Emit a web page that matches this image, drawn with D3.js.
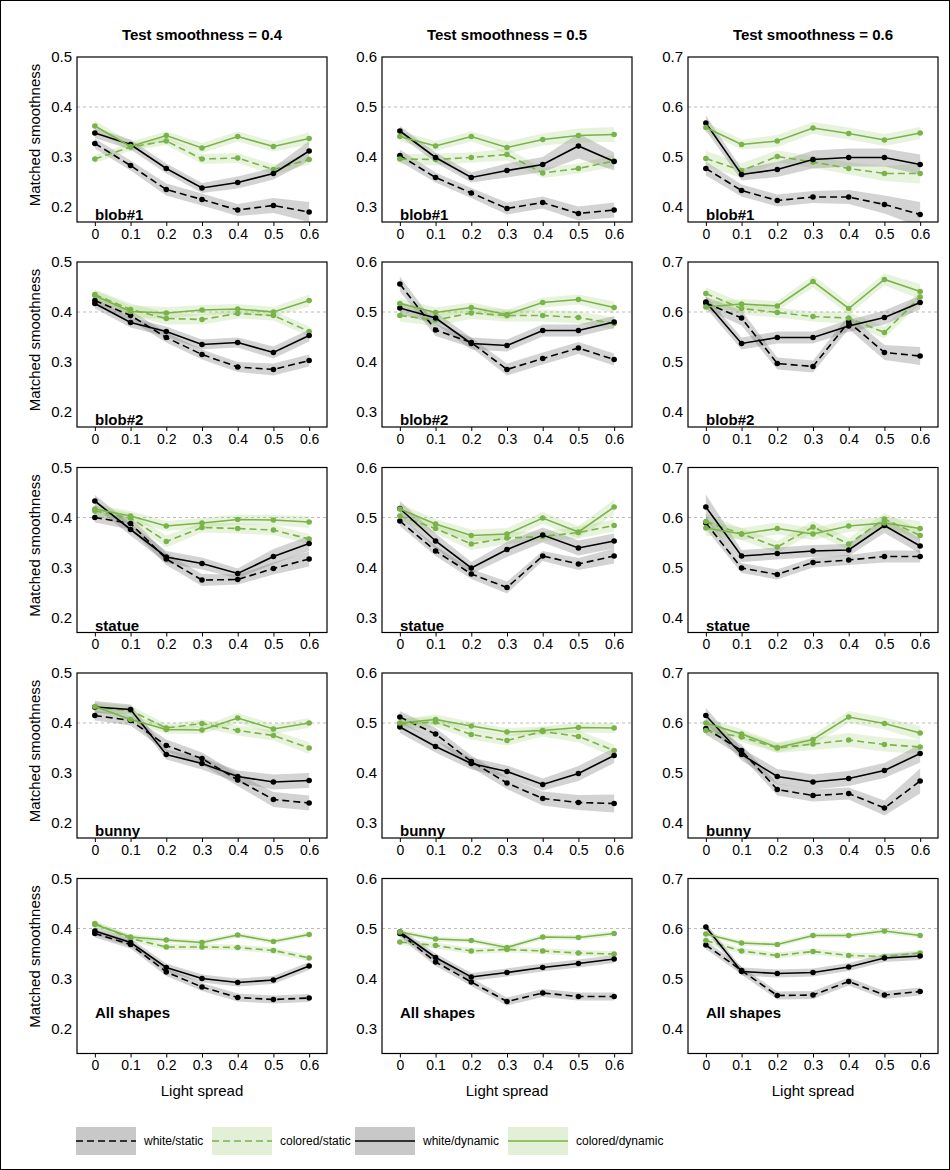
<!DOCTYPE html>
<html>
<head>
<meta charset="utf-8">
<script src="https://cdn.jsdelivr.net/npm/d3@7"></script>
<style>
  html, body { margin: 0; padding: 0; background: #fff; }
  svg { display: block; font-family: "Liberation Sans", Arial, sans-serif; }
</style>
</head>
<body>
<svg id="fig" width="950" height="1170"></svg>
<script>
// Light spread levels on the x axis
const spreads = [0, 0.1, 0.2, 0.3, 0.4, 0.5, 0.6];
const spreadTicks = ["0", "0.1", "0.2", "0.3", "0.4", "0.5", "0.6"];
// Columns: test smoothness; rows: shapes
const testSmoothness = [0.4, 0.5, 0.6];
const shapes = ["blob#1", "blob#2", "statue", "bunny", "All shapes"];
const conditions = ["white/static", "colored/static", "white/dynamic", "colored/dynamic"];

// Mean matched smoothness, one row per panel (shape-major, then test smoothness)
const whiteStatic = [
  [0.327, 0.283, 0.235, 0.215, 0.194, 0.203, 0.190],
  [0.403, 0.359, 0.328, 0.297, 0.309, 0.287, 0.294],
  [0.477, 0.433, 0.413, 0.420, 0.420, 0.405, 0.385],
  [0.423, 0.393, 0.349, 0.315, 0.290, 0.285, 0.303],
  [0.556, 0.464, 0.439, 0.385, 0.407, 0.428, 0.405],
  [0.618, 0.588, 0.497, 0.491, 0.580, 0.519, 0.512],
  [0.400, 0.388, 0.317, 0.275, 0.276, 0.298, 0.317],
  [0.493, 0.433, 0.387, 0.360, 0.423, 0.407, 0.423],
  [0.589, 0.499, 0.486, 0.510, 0.515, 0.522, 0.522],
  [0.415, 0.405, 0.355, 0.329, 0.286, 0.247, 0.240],
  [0.512, 0.478, 0.423, 0.380, 0.349, 0.341, 0.339],
  [0.589, 0.545, 0.467, 0.455, 0.459, 0.430, 0.484],
  [0.390, 0.368, 0.313, 0.283, 0.262, 0.258, 0.261],
  [0.490, 0.433, 0.393, 0.354, 0.371, 0.364, 0.364],
  [0.567, 0.516, 0.466, 0.467, 0.494, 0.467, 0.474]
];
const coloredStatic = [
  [0.296, 0.320, 0.332, 0.296, 0.298, 0.275, 0.295],
  [0.396, 0.395, 0.399, 0.405, 0.368, 0.377, 0.392],
  [0.497, 0.473, 0.501, 0.490, 0.477, 0.467, 0.467],
  [0.435, 0.405, 0.387, 0.385, 0.397, 0.393, 0.361],
  [0.493, 0.484, 0.498, 0.493, 0.493, 0.489, 0.477],
  [0.637, 0.607, 0.599, 0.591, 0.588, 0.559, 0.630],
  [0.413, 0.399, 0.352, 0.380, 0.378, 0.375, 0.357],
  [0.503, 0.478, 0.447, 0.459, 0.462, 0.470, 0.484],
  [0.592, 0.567, 0.541, 0.581, 0.547, 0.597, 0.564],
  [0.431, 0.425, 0.390, 0.399, 0.385, 0.375, 0.350],
  [0.498, 0.502, 0.477, 0.465, 0.483, 0.473, 0.445],
  [0.585, 0.572, 0.550, 0.558, 0.566, 0.557, 0.552],
  [0.410, 0.380, 0.363, 0.363, 0.362, 0.356, 0.341],
  [0.473, 0.466, 0.455, 0.458, 0.455, 0.451, 0.449],
  [0.576, 0.555, 0.546, 0.554, 0.546, 0.544, 0.551]
];
const whiteDynamic = [
  [0.348, 0.325, 0.277, 0.238, 0.249, 0.267, 0.312],
  [0.452, 0.399, 0.359, 0.373, 0.385, 0.422, 0.391],
  [0.568, 0.465, 0.475, 0.495, 0.499, 0.499, 0.485],
  [0.417, 0.379, 0.361, 0.335, 0.339, 0.319, 0.353],
  [0.508, 0.488, 0.437, 0.433, 0.463, 0.463, 0.480],
  [0.620, 0.537, 0.549, 0.549, 0.572, 0.589, 0.619],
  [0.433, 0.376, 0.321, 0.308, 0.288, 0.322, 0.348],
  [0.518, 0.453, 0.399, 0.436, 0.465, 0.439, 0.453],
  [0.621, 0.523, 0.528, 0.533, 0.535, 0.584, 0.543],
  [0.432, 0.427, 0.337, 0.319, 0.293, 0.282, 0.285],
  [0.492, 0.453, 0.419, 0.403, 0.377, 0.399, 0.435],
  [0.615, 0.537, 0.493, 0.482, 0.489, 0.505, 0.539],
  [0.395, 0.372, 0.322, 0.300, 0.292, 0.297, 0.325],
  [0.493, 0.442, 0.403, 0.412, 0.422, 0.430, 0.439],
  [0.603, 0.514, 0.510, 0.512, 0.523, 0.541, 0.545]
];
const coloredDynamic = [
  [0.362, 0.321, 0.343, 0.318, 0.341, 0.321, 0.337],
  [0.441, 0.422, 0.441, 0.419, 0.435, 0.443, 0.445],
  [0.559, 0.525, 0.532, 0.558, 0.547, 0.534, 0.548],
  [0.433, 0.401, 0.398, 0.404, 0.406, 0.400, 0.423],
  [0.517, 0.499, 0.509, 0.495, 0.519, 0.525, 0.509],
  [0.610, 0.616, 0.612, 0.661, 0.607, 0.665, 0.641],
  [0.417, 0.403, 0.383, 0.389, 0.396, 0.395, 0.391],
  [0.517, 0.487, 0.464, 0.467, 0.499, 0.471, 0.521],
  [0.579, 0.567, 0.578, 0.567, 0.583, 0.589, 0.578],
  [0.433, 0.407, 0.387, 0.386, 0.410, 0.388, 0.400],
  [0.500, 0.507, 0.494, 0.482, 0.485, 0.491, 0.490],
  [0.600, 0.578, 0.551, 0.567, 0.612, 0.599, 0.580],
  [0.408, 0.383, 0.377, 0.372, 0.387, 0.374, 0.388],
  [0.493, 0.479, 0.476, 0.462, 0.483, 0.482, 0.490],
  [0.589, 0.571, 0.568, 0.586, 0.586, 0.595, 0.586]
];

// Standard errors (half-width of the shaded bands)
const whiteStaticSE = [
  [0.010, 0.010, 0.012, 0.012, 0.012, 0.015, 0.020],
  [0.012, 0.010, 0.010, 0.012, 0.012, 0.014, 0.015],
  [0.014, 0.012, 0.012, 0.012, 0.014, 0.018, 0.025],
  [0.010, 0.010, 0.010, 0.010, 0.010, 0.012, 0.012],
  [0.015, 0.012, 0.010, 0.012, 0.012, 0.012, 0.012],
  [0.012, 0.015, 0.012, 0.012, 0.014, 0.015, 0.018],
  [0.010, 0.012, 0.012, 0.012, 0.010, 0.012, 0.015],
  [0.010, 0.010, 0.010, 0.012, 0.010, 0.012, 0.015],
  [0.012, 0.010, 0.010, 0.010, 0.010, 0.012, 0.012],
  [0.010, 0.010, 0.012, 0.012, 0.012, 0.015, 0.015],
  [0.012, 0.012, 0.012, 0.012, 0.014, 0.015, 0.018],
  [0.012, 0.012, 0.012, 0.012, 0.012, 0.015, 0.025],
  [0.008, 0.008, 0.008, 0.008, 0.008, 0.008, 0.008],
  [0.008, 0.008, 0.008, 0.008, 0.008, 0.008, 0.008],
  [0.008, 0.008, 0.008, 0.008, 0.008, 0.008, 0.008]
];
const coloredStaticSE = [
  [0.008, 0.008, 0.008, 0.010, 0.010, 0.010, 0.010],
  [0.010, 0.012, 0.010, 0.012, 0.010, 0.010, 0.012],
  [0.015, 0.015, 0.012, 0.012, 0.012, 0.015, 0.020],
  [0.010, 0.012, 0.012, 0.010, 0.010, 0.010, 0.010],
  [0.012, 0.012, 0.012, 0.012, 0.012, 0.012, 0.012],
  [0.012, 0.012, 0.010, 0.010, 0.012, 0.012, 0.012],
  [0.010, 0.010, 0.012, 0.010, 0.010, 0.010, 0.010],
  [0.010, 0.010, 0.012, 0.012, 0.010, 0.012, 0.012],
  [0.015, 0.012, 0.012, 0.012, 0.012, 0.012, 0.012],
  [0.010, 0.010, 0.008, 0.008, 0.010, 0.010, 0.012],
  [0.010, 0.010, 0.010, 0.010, 0.010, 0.012, 0.012],
  [0.010, 0.010, 0.010, 0.012, 0.014, 0.014, 0.014],
  [0.006, 0.006, 0.006, 0.006, 0.006, 0.006, 0.006],
  [0.006, 0.006, 0.006, 0.006, 0.006, 0.006, 0.006],
  [0.006, 0.006, 0.006, 0.006, 0.006, 0.006, 0.006]
];
const whiteDynamicSE = [
  [0.010, 0.010, 0.010, 0.010, 0.012, 0.012, 0.020],
  [0.010, 0.010, 0.010, 0.014, 0.015, 0.025, 0.018],
  [0.015, 0.012, 0.015, 0.018, 0.018, 0.018, 0.020],
  [0.010, 0.010, 0.010, 0.010, 0.010, 0.012, 0.012],
  [0.012, 0.012, 0.012, 0.012, 0.012, 0.012, 0.012],
  [0.012, 0.012, 0.012, 0.012, 0.012, 0.014, 0.014],
  [0.012, 0.012, 0.012, 0.012, 0.010, 0.015, 0.015],
  [0.015, 0.015, 0.012, 0.015, 0.015, 0.015, 0.015],
  [0.025, 0.012, 0.012, 0.012, 0.012, 0.015, 0.015],
  [0.012, 0.010, 0.010, 0.012, 0.012, 0.015, 0.015],
  [0.012, 0.012, 0.012, 0.012, 0.012, 0.015, 0.015],
  [0.015, 0.012, 0.015, 0.015, 0.015, 0.015, 0.018],
  [0.008, 0.008, 0.008, 0.008, 0.008, 0.008, 0.008],
  [0.008, 0.008, 0.008, 0.008, 0.008, 0.008, 0.008],
  [0.008, 0.008, 0.008, 0.008, 0.008, 0.008, 0.008]
];
const coloredDynamicSE = [
  [0.010, 0.010, 0.008, 0.010, 0.010, 0.010, 0.012],
  [0.010, 0.010, 0.010, 0.012, 0.012, 0.014, 0.015],
  [0.010, 0.010, 0.012, 0.012, 0.012, 0.012, 0.012],
  [0.010, 0.012, 0.012, 0.010, 0.010, 0.010, 0.012],
  [0.010, 0.010, 0.010, 0.010, 0.010, 0.010, 0.012],
  [0.010, 0.010, 0.010, 0.012, 0.012, 0.012, 0.015],
  [0.010, 0.010, 0.010, 0.010, 0.010, 0.010, 0.012],
  [0.010, 0.010, 0.012, 0.012, 0.012, 0.012, 0.015],
  [0.015, 0.012, 0.012, 0.012, 0.012, 0.012, 0.015],
  [0.008, 0.008, 0.008, 0.008, 0.010, 0.010, 0.010],
  [0.008, 0.010, 0.008, 0.008, 0.008, 0.010, 0.010],
  [0.010, 0.010, 0.010, 0.010, 0.012, 0.012, 0.014],
  [0.005, 0.005, 0.005, 0.005, 0.005, 0.005, 0.005],
  [0.005, 0.005, 0.005, 0.005, 0.005, 0.005, 0.005],
  [0.005, 0.005, 0.005, 0.005, 0.005, 0.005, 0.005]
];

// Drawing styles per condition
const styles = [
  { mean: whiteStatic,    se: whiteStaticSE,    line: "#000",    band: "rgba(120,120,120,0.33)", dash: "7,4" },
  { mean: coloredStatic,  se: coloredStaticSE,  line: "#79b34a", band: "rgba(150,200,100,0.22)", dash: "7,4" },
  { mean: whiteDynamic,   se: whiteDynamicSE,   line: "#000",    band: "rgba(120,120,120,0.33)", dash: null },
  { mean: coloredDynamic, se: coloredDynamicSE, line: "#79b34a", band: "rgba(150,200,100,0.22)", dash: null }
];

const svg = d3.select("#fig");
const colLeft = [77, 382, 688];
const rowTop = [57, 262, 467.5, 673, 878.5];
const pw = 250;
// panel heights in data units (100 px per 0.2); the bottom row is a little taller
const rowSpan = [0.33, 0.33, 0.33, 0.33, 0.35];
const pxPerUnit = 500;
const labelLift = [2, 2, 2, 2, 36];

svg.append("rect").attr("x", 0.5).attr("y", 0.5).attr("width", 949).attr("height", 1169)
  .attr("fill", "none").attr("stroke", "#000").attr("stroke-width", 1);

// Column titles
testSmoothness.forEach((ts, c) => {
  svg.append("text").attr("x", colLeft[c] + pw / 2).attr("y", 40)
    .attr("text-anchor", "middle").attr("font-size", 15).attr("font-weight", "bold")
    .text(`Test smoothness = ${ts}`);
});

shapes.forEach((shape, r) => {
  const ph = rowSpan[r] * pxPerUnit;
  // Row axis title
  svg.append("text")
    .attr("transform", `translate(40,${rowTop[r] + 78}) rotate(-90)`)
    .attr("text-anchor", "middle").attr("font-size", 15)
    .text("Matched smoothness");

  testSmoothness.forEach((ts, c) => {
    const idx = r * 3 + c;
    const g = svg.append("g").attr("transform", `translate(${colLeft[c]},${rowTop[r]})`);
    const x = d3.scaleLinear().domain([-0.05, 0.65]).range([0, pw]);
    const y = d3.scaleLinear().domain([ts + 0.1 - rowSpan[r], ts + 0.1]).range([ph, 0]);

    // y axis labels
    const yAxis = d3.axisLeft(y).tickValues([ts - 0.2, ts - 0.1, ts, ts + 0.1].map(v => +v.toFixed(2)))
      .tickFormat(d3.format(".1f")).tickSize(0).tickPadding(5);
    const ya = g.append("g").call(yAxis);
    ya.select(".domain").remove();
    ya.selectAll("text").attr("font-size", 15).attr("font-family", "Liberation Sans, Arial, sans-serif").attr("fill", "#000");

    // x axis labels
    const xAxis = d3.axisBottom(x).tickValues(spreads).tickFormat((d, i) => spreadTicks[i])
      .tickSize(4).tickPadding(3);
    const xa = g.append("g").attr("transform", `translate(0,${ph})`).call(xAxis);
    xa.select(".domain").remove();
    xa.selectAll("text").attr("font-size", 14).attr("font-family", "Liberation Sans, Arial, sans-serif").attr("fill", "#000");

    // reference line at the test smoothness
    g.append("line").attr("x1", 0).attr("x2", pw).attr("y1", y(ts)).attr("y2", y(ts))
      .attr("stroke", "#bbb").attr("stroke-width", 1).attr("stroke-dasharray", "3,3");

    const clip = `clip-${idx}`;
    g.append("clipPath").attr("id", clip).append("rect").attr("width", pw).attr("height", ph);
    const inner = g.append("g").attr("clip-path", `url(#${clip})`);

    // bands
    styles.forEach(s => {
      const pts = spreads.map((sp, i) => ({ x: sp, m: s.mean[idx][i], e: s.se[idx][i] }));
      const area = d3.area().x(d => x(d.x)).y0(d => y(d.m - d.e)).y1(d => y(d.m + d.e));
      inner.append("path").attr("d", area(pts)).attr("fill", s.band);
    });
    // lines and points
    styles.forEach(s => {
      const pts = spreads.map((sp, i) => ({ x: sp, m: s.mean[idx][i] }));
      const line = d3.line().x(d => x(d.x)).y(d => y(d.m));
      inner.append("path").attr("d", line(pts)).attr("fill", "none")
        .attr("stroke", s.line).attr("stroke-width", 1.6)
        .attr("stroke-dasharray", s.dash);
      inner.selectAll(null).data(pts).join("circle")
        .attr("cx", d => x(d.x)).attr("cy", d => y(d.m)).attr("r", 2.8).attr("fill", s.line);
    });

    // frame
    g.append("rect").attr("width", pw).attr("height", ph).attr("fill", "none")
      .attr("stroke", "#000").attr("stroke-width", 1.2);

    // shape label
    g.append("text").attr("x", 18).attr("y", ph - labelLift[r]).attr("font-size", 15)
      .attr("font-weight", "bold").text(shape);

    if (r === shapes.length - 1) {
      g.append("text").attr("x", pw / 2).attr("y", ph + 42).attr("text-anchor", "middle")
        .attr("font-size", 15).text("Light spread");
    }
  });
});

// Legend
const legendX = [76, 212, 355, 508];
conditions.forEach((name, i) => {
  const s = styles[i];
  const lg = svg.append("g").attr("transform", `translate(${legendX[i]},1127)`);
  lg.append("rect").attr("width", 60).attr("height", 28)
    .attr("fill", i % 2 === 0 ? "#c8c8c8" : "#e3efd6");
  lg.append("line").attr("x1", 0).attr("x2", 60).attr("y1", 14).attr("y2", 14)
    .attr("stroke", s.line).attr("stroke-width", 1.6).attr("stroke-dasharray", s.dash);
  lg.append("text").attr("x", 68).attr("y", 18).attr("font-size", 12).text(name);
});
</script>
</body>
</html>
